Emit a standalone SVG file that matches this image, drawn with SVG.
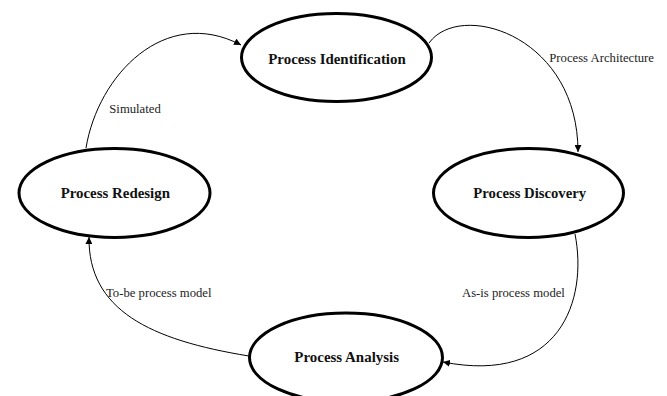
<svg xmlns="http://www.w3.org/2000/svg" width="667" height="396" viewBox="0 0 667 396">
<style>
.node{fill:#fff;stroke:#000;stroke-width:3}
.title{font-family:"Liberation Serif","Times New Roman",serif;font-weight:bold;font-size:15.5px;fill:#111;text-anchor:middle}
.edge{fill:none;stroke:#000;stroke-width:1}
.lbl{font-family:"Liberation Serif","Times New Roman",serif;font-size:12.7px;fill:#222}
</style>
<defs>
<marker id="arr" viewBox="0 0 10 10" refX="10" refY="5" markerWidth="7" markerHeight="7" markerUnits="userSpaceOnUse" orient="auto">
<path d="M0,0 L10,5 L0,10 z" fill="#000"/>
</marker>
</defs>
<rect width="667" height="396" fill="#fff"/>
<g id="connectors">
<path class="edge" d="M86,148 C98,75 165,5 241,45" marker-end="url(#arr)"/>
<path class="edge" d="M429,43 C460,0 578,35 578,152" marker-end="url(#arr)"/>
<path class="edge" d="M575,234 C588,300 560,385 443,362" marker-end="url(#arr)"/>
<path class="edge" d="M249,356 C150,340 88,310 89,237" marker-end="url(#arr)"/>
<text class="lbl" x="109.3" y="113.3">Simulated</text>
<text class="lbl" x="549.3" y="61.7">Process Architecture</text>
<text class="lbl" x="106" y="296.5">To-be process model</text>
<text class="lbl" x="462" y="296.5">As-is process model</text>
</g>
<g id="process-identification">
<ellipse class="node" cx="336.5" cy="57.5" rx="95" ry="44"/>
<text class="title" x="337" y="64" textLength="137.5" lengthAdjust="spacingAndGlyphs">Process Identification</text>
</g>
<g id="process-redesign">
<ellipse class="node" cx="114.5" cy="193" rx="95.5" ry="44.5"/>
<text class="title" x="115.3" y="197.5" textLength="109.3" lengthAdjust="spacingAndGlyphs">Process Redesign</text>
</g>
<g id="process-discovery">
<ellipse class="node" cx="528.5" cy="193" rx="95" ry="44.5"/>
<text class="title" x="529.7" y="197.5" textLength="112.7" lengthAdjust="spacingAndGlyphs">Process Discovery</text>
</g>
<g id="process-analysis">
<ellipse class="node" cx="346" cy="357.5" rx="96.5" ry="44.5"/>
<text class="title" x="346.7" y="361.7" textLength="104.7" lengthAdjust="spacingAndGlyphs">Process Analysis</text>
</g>
</svg>
